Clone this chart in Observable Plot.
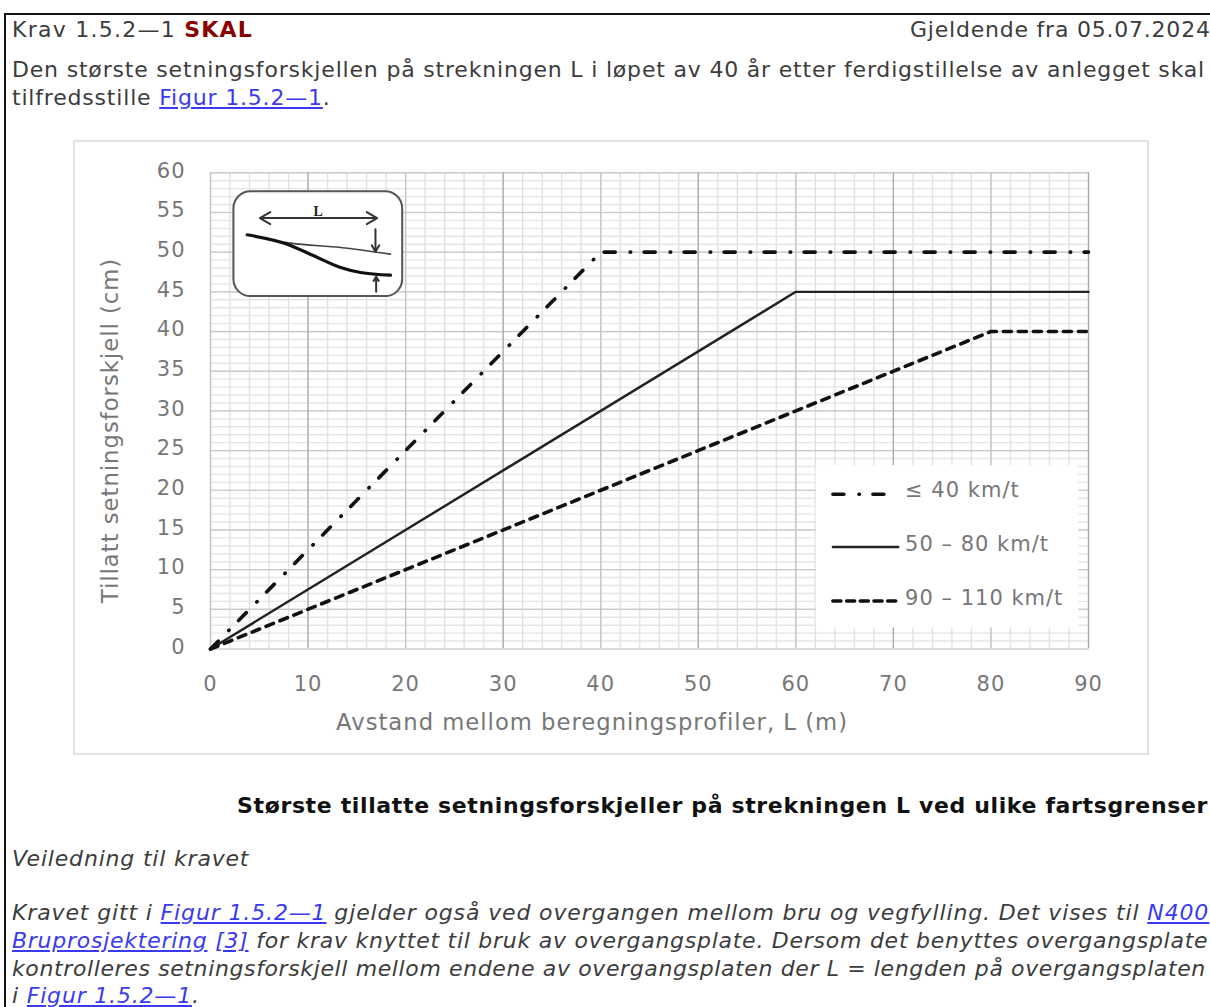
<!DOCTYPE html>
<html><head><meta charset="utf-8">
<script src="https://cdn.jsdelivr.net/npm/d3@7"></script>
<script src="https://cdn.jsdelivr.net/npm/@observablehq/plot@0.6"></script>
<style>
html,body{margin:0;padding:0;background:#fff;overflow:hidden;width:1210px;height:1007px}
#page{position:absolute;left:0;top:0;width:1210px;height:1007px;overflow:hidden;font-family:"DejaVu Sans",sans-serif;color:#3c3c3c}
.t{position:absolute;white-space:pre;font-size:22px;line-height:28px;letter-spacing:.81px}
.i{font-style:italic}
a{color:#3a3af0;text-decoration:underline}
#border{position:absolute;left:4px;top:13px;width:1300px;height:1100px;border:2px solid #111;box-sizing:border-box}
#frame{position:absolute;left:73px;top:140px;width:1076px;height:615px;border:2px solid #e2e2e2;box-sizing:border-box}
#chart{position:absolute;left:73px;top:140px}
#chart svg{letter-spacing:1px}
</style></head>
<body><div id="page">
<div id="border"></div>
<div class="t" style="left:12px;top:16px;letter-spacing:1.25px">Krav 1.5.2—1 <b style="color:#8b0000">SKAL</b></div>
<div class="t" style="left:910px;top:16px;letter-spacing:.78px">Gjeldende fra 05.07.2024</div>
<div class="t" style="left:12px;top:56px">Den største setningsforskjellen på strekningen L i løpet av 40 år etter ferdigstillelse av anlegget skal</div>
<div class="t" style="left:12px;top:84px">tilfredsstille <a>Figur 1.5.2—1</a>.</div>
<div id="frame"></div>
<div id="chart"></div>
<div class="t" style="left:237px;top:792px;font-weight:bold;color:#111;letter-spacing:.64px">Største tillatte setningsforskjeller på strekningen L ved ulike fartsgrenser</div>
<div class="t i" style="left:12px;top:845px">Veiledning til kravet</div>
<div class="t i" style="left:12px;top:899px;letter-spacing:.86px">Kravet gitt i <a>Figur 1.5.2—1</a> gjelder også ved overgangen mellom bru og vegfylling. Det vises til <a>N400</a></div>
<div class="t i" style="left:12px;top:927px;letter-spacing:.74px"><a>Bruprosjektering</a> <a>[3]</a> for krav knyttet til bruk av overgangsplate. Dersom det benyttes overgangsplate</div>
<div class="t i" style="left:12px;top:955px;letter-spacing:.62px">kontrolleres setningsforskjell mellom endene av overgangsplaten der L = lengden på overgangsplaten</div>
<div class="t i" style="left:12px;top:982px">i <a>Figur 1.5.2—1</a>.</div>
</div>
<script>
// Series: [L (m), allowed difference (cm)]
const lowSpeed = [[0, 0], [40, 50], [90, 50]];
const midSpeed = [[0, 0], [60, 45], [90, 45]];
const highSpeed = [[0, 0], [80, 40], [90, 40]];
const legendLabels = ["≤ 40 km/t", "50 – 80 km/t", "90 – 110 km/t"];

// Axes and grid
const xTicks = [0, 10, 20, 30, 40, 50, 60, 70, 80, 90];
const yTicks = [0, 5, 10, 15, 20, 25, 30, 35, 40, 45, 50, 55, 60];
const xMinor = d3.range(0, 91, 2);
const yMinor = d3.range(0, 61, 1);
const xLabel = "Avstand mellom beregningsprofiler, L (m)";
const yLabel = "Tillatt setningsforskjell (cm)";

// Legend box, in chart units
const legendBox = [{x1: 62.1, x2: 89, y1: 2.65, y2: 23.1}];
const legendLow = [[63.8, 19.5], [69.5, 19.5]];
const legendMid = [[63.8, 12.85], [70.5, 12.85]];
const legendHigh = [[63.8, 6.05], [70.5, 6.05]];
const legendText = [{x: 71.2, y: 19.95}, {x: 71.2, y: 13.2}, {x: 71.2, y: 6.4}];

// Inset sketch, in chart units
const insetBox = [{x1: 2.4, x2: 19.7, y1: 44.4, y2: 57.6}];
const insetThin = [[3.76, 52.19], [8.2, 51.14], [13.33, 50.59], [18.45, 49.75]];
const insetThick = [[3.76, 52.19], [7.86, 51.01], [10.59, 49.54], [13.33, 48.07], [15.38, 47.44], [18.45, 47.1]];
const insetArrows = [
  {x1: 11, y1: 54.29, x2: 5.06, y2: 54.29},
  {x1: 11, y1: 54.29, x2: 17.08, y2: 54.29},
  {x1: 16.91, y1: 52.9, x2: 16.91, y2: 50.04},
  {x1: 16.98, y1: 45, x2: 16.98, y2: 46.93}
];
const insetL = [{x: 11.1, y: 55.1, t: "L"}];

const ink = "#111";
const grey = "#777";
const fontFamily = '"DejaVu Sans", sans-serif';

const chart = Plot.plot({
  width: 1076, height: 615,
  marginLeft: 137, marginRight: 60, marginTop: 32, marginBottom: 107,
  style: {background: "transparent", fontFamily, fontSize: "21px", overflow: "visible"},
  x: {domain: [0, 90], range: [137, 1015]},
  y: {domain: [0, 60], range: [508.5, 32.3]},
  marks: [
    Plot.ruleY(yMinor, {stroke: "#e6e6e6", strokeWidth: 1.4}),
    Plot.ruleX(xMinor, {stroke: "#e2e2e2", strokeWidth: 1.4}),
    Plot.ruleY(yTicks, {stroke: "#c8c8c8", strokeWidth: 1.2}),
    Plot.ruleX(xTicks, {stroke: d => (d / 10) % 2 ? "#aaaaaa" : "#c4c4c4", strokeWidth: 1.3}),
    Plot.rect(insetBox, {x1: "x1", x2: "x2", y1: "y1", y2: "y2", fill: "#fff", stroke: "#555", strokeWidth: 2, rx: 17}),
    Plot.line(insetThin, {x: d => d[0], y: d => d[1], stroke: "#444", strokeWidth: 1.6, curve: "monotone-x"}),
    Plot.line(insetThick, {x: d => d[0], y: d => d[1], stroke: "#111", strokeWidth: 3.2, curve: "monotone-x"}),
    Plot.arrow(insetArrows, {x1: "x1", y1: "y1", x2: "x2", y2: "y2", stroke: "#333", strokeWidth: 2, bend: 0, headLength: 9, inset: 0}),
    Plot.text(insetL, {x: "x", y: "y", text: "t", fill: "#222", fontSize: 14, fontWeight: "bold", fontFamily: '"Liberation Serif", serif'}),
    Plot.rect(legendBox, {x1: "x1", x2: "x2", y1: "y1", y2: "y2", fill: "#fff"}),
    Plot.line(lowSpeed, {x: d => d[0], y: d => d[1], stroke: ink, strokeWidth: 3.6, strokeLinecap: "round", strokeDasharray: "11 15 0.5 13.5"}),
    Plot.line(midSpeed, {x: d => d[0], y: d => d[1], stroke: "#222", strokeWidth: 2.4}),
    Plot.line(highSpeed, {x: d => d[0], y: d => d[1], stroke: ink, strokeWidth: 3.6, strokeLinecap: "round", strokeDasharray: "8 7"}),
    Plot.line(legendLow, {x: d => d[0], y: d => d[1], stroke: ink, strokeWidth: 3.6, strokeLinecap: "round", strokeDasharray: "11 15 0.5 13.5"}),
    Plot.line(legendMid, {x: d => d[0], y: d => d[1], stroke: "#222", strokeWidth: 2.4}),
    Plot.line(legendHigh, {x: d => d[0], y: d => d[1], stroke: ink, strokeWidth: 3.6, strokeLinecap: "round", strokeDasharray: "8 5.7"}),
    Plot.text(legendText, {x: "x", y: "y", text: (d, i) => legendLabels[i], textAnchor: "start", fill: grey, fontSize: 21}),
    Plot.axisX({ticks: xTicks, tickSize: 0, tickPadding: 28, fill: grey, label: null}),
    Plot.axisY({ticks: yTicks, tickSize: 0, tickPadding: 25, dy: -2, fill: grey, label: null}),
    Plot.text([xLabel], {frameAnchor: "bottom", dx: -58, dy: 74, fill: grey, fontSize: 22.7, lineAnchor: "middle"}),
    Plot.text([yLabel], {frameAnchor: "left", textAnchor: "middle", dx: -100, dy: 20, rotate: -90, fill: grey, fontSize: 22.7, lineAnchor: "middle"})
  ]
});
document.getElementById("chart").appendChild(chart);
</script>
</body></html>
